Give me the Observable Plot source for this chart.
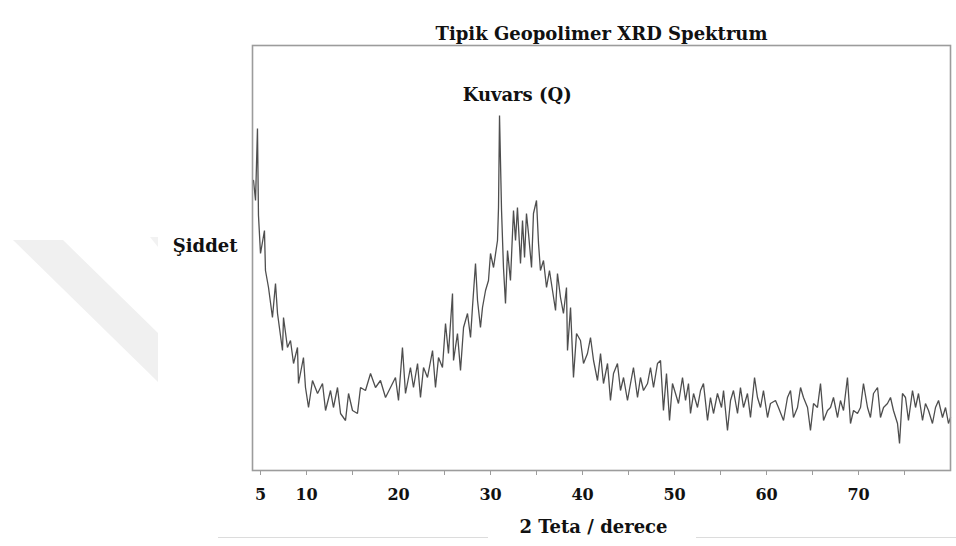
<!DOCTYPE html>
<html>
<head>
<meta charset="utf-8">
<script src="https://cdn.jsdelivr.net/npm/d3@7"></script>
<script src="https://cdn.jsdelivr.net/npm/@observablehq/plot@0.6"></script>
<style>
  html, body { margin: 0; padding: 0; background: #ffffff; }
  #wrap { position: relative; width: 956px; height: 546px; overflow: hidden; }
  #band { position: absolute; left: 0; top: 0; width: 956px; height: 546px; background: #f0f0f0;
          clip-path: polygon(13px 240px, 63px 240px, 158px 333px, 158px 382px); }
  #band2 { position: absolute; left: 0; top: 0; width: 956px; height: 546px; background: #f2f2f2;
          clip-path: polygon(150px 237px, 158px 237px, 158px 247px); }
  #rule { position: absolute; left: 218px; top: 537px; width: 738px; height: 1px; background: #dcdcdc; }
  #chart { position: absolute; left: 0; top: 0; }
</style>
</head>
<body>
<div id="wrap">
  <div id="band"></div>
  <div id="band2"></div>
  <div id="rule"></div>
  <div id="chart"></div>
</div>
<script>
// 2θ (degrees) and intensity (arbitrary units)
const twoTheta = [
  4.24, 4.46, 4.67, 4.78, 5.0, 5.43, 5.54, 5.87, 6.30, 6.63, 6.85, 7.39, 7.50, 7.93, 8.26, 8.59,
  9.02, 9.13, 9.67, 9.89, 10.22, 10.65, 11.20, 11.74, 12.07, 12.61, 12.93, 13.37, 13.70, 14.24,
  14.57, 15.00, 15.54, 15.87, 16.41, 16.96, 17.50, 18.04, 18.59, 19.13, 19.67, 20.00, 20.43,
  20.76, 21.30, 21.63, 22.07, 22.39, 22.72, 23.15, 23.70, 24.02, 24.35, 24.78, 25.11, 25.43,
  25.87, 25.98, 26.41, 26.74, 27.07, 27.50, 27.83, 28.04, 28.37, 28.59, 28.91, 29.13, 29.46,
  29.78, 30.00, 30.33, 30.76, 30.87, 30.98, 31.20, 31.41, 31.63, 31.85, 32.17, 32.50, 32.72,
  32.93, 33.26, 33.48, 33.70, 33.91, 34.13, 34.46, 34.67, 35.00, 35.22, 35.43, 35.76, 36.09,
  36.41, 36.74, 37.07, 37.28, 37.61, 37.93, 38.26, 38.37, 38.70, 39.02, 39.35, 39.78, 40.11,
  40.54, 40.87, 41.20, 41.63, 41.96, 42.28, 42.72, 43.04, 43.37, 43.80, 44.13, 44.46, 44.89,
  45.22, 45.54, 45.98, 46.30, 46.63, 47.07, 47.39, 47.72, 48.15, 48.48, 48.80, 49.13, 49.46,
  49.78, 50.11, 50.43, 50.87, 51.20, 51.52, 51.74, 52.07, 52.50, 52.83, 53.15, 53.59, 53.91,
  54.24, 54.67, 55.11, 55.33, 55.76, 56.09, 56.41, 56.85, 57.17, 57.50, 57.93, 58.26, 58.70,
  59.02, 59.35, 59.67, 60.11, 60.43, 60.98, 61.30, 61.85, 62.28, 62.61, 62.93, 63.37, 63.70,
  64.02, 64.46, 64.78, 65.11, 65.54, 65.87, 66.20, 66.63, 66.96, 67.28, 67.72, 68.04, 68.37,
  68.80, 69.13, 69.46, 69.89, 70.22, 70.54, 70.98, 71.30, 71.63, 72.07, 72.39, 72.72, 73.15,
  73.48, 73.80, 74.24, 74.46, 74.78, 75.11, 75.43, 75.87, 76.20, 76.52, 76.96, 77.28, 77.61,
  78.04, 78.37, 78.70, 79.13, 79.46, 79.78, 80.0
];
const intensity = [
  286, 266, 338, 251, 213, 236, 196, 179, 149, 183, 153, 116, 149, 119, 126, 103,
  119, 83, 109, 79, 59, 86, 73, 83, 56, 76, 59, 79, 53, 46,
  73, 56, 53, 79, 76, 93, 79, 86, 69, 79, 89, 66, 119,
  73, 99, 79, 103, 69, 99, 89, 116, 79, 109, 99, 143, 113,
  173, 106, 133, 96, 139, 153, 129, 159, 203, 166, 139, 159, 176,
  186, 213, 199, 226, 259, 351, 256, 199, 163, 216, 186, 256, 226,
  259, 203, 246, 209, 253, 233, 199, 253, 266, 223, 196, 206, 179,
  196, 176, 156, 193, 169, 153, 179, 116, 159, 89, 133, 126, 103,
  113, 129, 106, 86, 113, 83, 103, 66, 93, 103, 76, 89, 66,
  83, 99, 69, 89, 76, 83, 99, 79, 103, 106, 56, 93, 46,
  83, 73, 63, 89, 66, 83, 53, 73, 59, 76, 83, 46, 69,
  53, 73, 59, 76, 36, 66, 76, 53, 79, 59, 73, 49, 89,
  69, 59, 76, 49, 63, 66, 59, 46, 69, 76, 49, 59, 79,
  69, 59, 36, 63, 59, 83, 46, 56, 59, 69, 49, 66, 56,
  89, 43, 56, 53, 59, 83, 59, 49, 73, 79, 49, 59, 63,
  69, 56, 43, 23, 73, 69, 46, 76, 59, 73, 46, 63, 56,
  43, 59, 66, 49, 59, 43, 49
];

const xTicks = [5, 10, 15, 20, 25, 30, 35, 40, 45, 50, 55, 60, 65, 70, 75];
const xTickLabels = [5, 10, 20, 30, 40, 50, 60, 70];

const chartTitle = "Tipik Geopolimer XRD Spektrum";
const xLabel = "2 Teta / derece";
const yLabel = "Şiddet";
const peakLabels = ["Kuvars (Q)"];
const peakLabelX = [32.9];
const peakLabelY = [371];

const spectrum = twoTheta.map((x, i) => ({x, y: intensity[i]}));
const peaks = peakLabels.map((t, i) => ({t, x: peakLabelX[i], y: peakLabelY[i]}));

const font = "DejaVu Serif";
const plot = Plot.plot({
  width: 956,
  height: 546,
  marginLeft: 252,
  marginRight: 6,
  marginTop: 45,
  marginBottom: 76,
  style: {fontFamily: font, background: "transparent", color: "#111"},
  x: {domain: [4.13, 80]},
  y: {domain: [-4, 421], axis: null},
  marks: [
    Plot.line(spectrum, {x: "x", y: "y", stroke: "#4e4e4e", strokeWidth: 1.3, strokeLinejoin: "miter"}),
    Plot.frame({stroke: "#9c9c9c", strokeWidth: 1.6}),
    Plot.axisX({
      ticks: xTicks,
      tickFormat: d => xTickLabels.includes(d) ? String(d) : "",
      tickSize: 5,
      tickPadding: 13,
      stroke: "#9c9c9c",
      fill: "#111",
      fontSize: 16,
      fontWeight: "bold",
      label: null
    }),
    Plot.text(peaks, {x: "x", y: "y", text: "t", fontSize: 18, fontWeight: "bold", fill: "#111", fontFamily: font}),
    Plot.text([chartTitle], {frameAnchor: "top", dy: -18, fontSize: 18, fontWeight: "bold", fill: "#111", fontFamily: font}),
    Plot.text([xLabel], {frameAnchor: "bottom", dy: 62, dx: -8, fontSize: 18, fontWeight: "bold", fill: "#111", fontFamily: font}),
    Plot.text([yLabel], {frameAnchor: "left", dx: -15, dy: -12, textAnchor: "end", fontSize: 18, fontWeight: "bold", fill: "#111", fontFamily: font})
  ]
});
document.getElementById("chart").appendChild(plot);

// white backing behind the x label so the thin rule breaks around it
const lbl = document.createElement("div");
lbl.style.cssText = "position:absolute;left:488px;top:530px;width:208px;height:14px;background:#fff;";
document.getElementById("wrap").insertBefore(lbl, document.getElementById("chart"));
</script>
</body>
</html>
